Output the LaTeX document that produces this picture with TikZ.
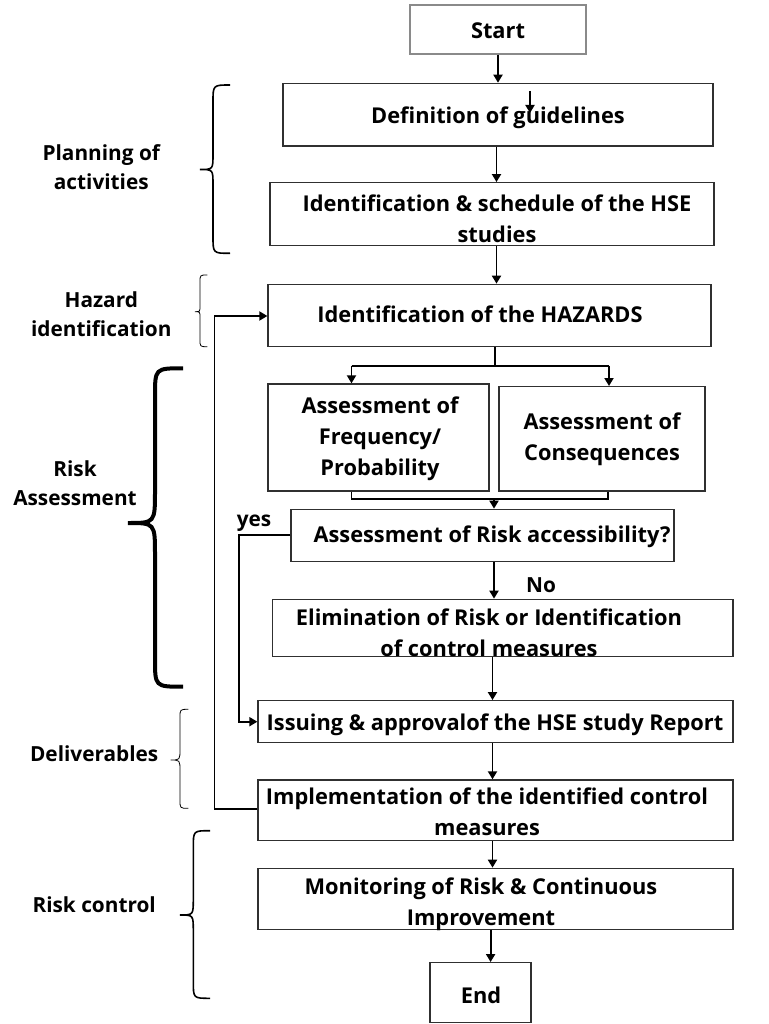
\documentclass[tikz,border=0pt]{standalone}
\usepackage{fontspec}
\setmainfont{Open Sans}[Ligatures=NoCommon]
\usetikzlibrary{arrows.meta}
\definecolor{boxc}{HTML}{303030}
\definecolor{startc}{HTML}{8A8A8A}
\newcommand\hsebrace[7]{%
 \draw[#1] ({#2},{#5}) .. controls ({#3},{#5}) .. ({#3},{#5+(#2-#3)*1.0})
   -- ({#3},{#6-(#3-#4)*1.2}) .. controls ({#3},{#6}) .. ({#4},{#6})
   .. controls ({#3},{#6}) .. ({#3},{#6+(#3-#4)*1.2})
   -- ({#3},{#7-(#2-#3)*1.0}) .. controls ({#3},{#7}) .. ({#2},{#7});}
\begin{document}
\begin{tikzpicture}[x=1pt,y=-1pt,
  box/.style={draw=boxc, line width=1.3pt, inner sep=0pt},
  txt/.style={font=\fontsize{21.8}{31}\selectfont\bfseries, align=center, inner sep=0pt, text=black},
  lbl/.style={font=\fontsize{20.8}{29}\selectfont\bfseries, align=center, inner sep=0pt, text=black},
  conn/.style={line width=1.9pt, draw=black},
  arr/.style={conn, -{Triangle[length=8pt,width=9pt]}},
  ]
\useasboundingbox (0,0) rectangle (768,1024);
\fill[white] (0,0) rectangle (768,1024);

% boxes
\node[box, draw=startc, minimum width=176pt, minimum height=49pt] (start) at (498,29.5) {};
\node[box, minimum width=430pt, minimum height=62.7pt] (def) at (498,114.7) {};
\node[box, minimum width=444pt, minimum height=62.6pt] (is) at (492,214) {};
\node[box, minimum width=443pt, minimum height=62.4pt] (haz) at (489.5,315.5) {};
\node[box, minimum width=221pt, minimum height=107pt] (freq) at (378.5,437.5) {};
\node[box, minimum width=206pt, minimum height=104.3pt] (cons) at (602,438.8) {};
\node[box, minimum width=383pt, minimum height=52pt] (risk) at (482.5,535.3) {};
\node[box, minimum width=460.3pt, minimum height=57.4pt] (elim) at (502.9,628) {};
\node[box, minimum width=475pt, minimum height=42pt] (iss) at (495.5,721.7) {};
\node[box, minimum width=475pt, minimum height=60.7pt] (impl) at (495.5,810.3) {};
\node[box, minimum width=475pt, minimum height=61pt] (mon) at (495.5,898.8) {};
\node[box, minimum width=101pt, minimum height=60pt] (end) at (480.5,992.7) {};

% box texts
\node[txt] (start-t) at (498,31) {Start};
\node[txt] (def-t) at (498,117.5) {Definition of guidelines};
\node[txt] (is-t) at (497,219) {Identification \& schedule of the HSE\\studies};
\node[txt] (haz-t) at (480,314.5) {Identification of the HAZARDS};
\node[txt] (freq-t) at (380,439) {Assessment of\\Frequency/\\Probability};
\node[txt] (cons-t) at (602,439) {Assessment of\\Consequences};
\node[txt] (risk-t) at (492,537) {Assessment of Risk accessibility?};
\node[txt] (elim-t) at (489,633) {Elimination of Risk or Identification\\of control measures};
\node[txt] (iss-t) at (495,724.5) {Issuing \& approvalof the HSE study Report};
\node[txt] (impl-t) at (487,812) {Implementation of the identified control\\measures};
\node[txt] (mon-t) at (481,904) {Monitoring of Risk \& Continuous\\Improvement};
\node[txt] (end-t) at (481,995) {End};
\node[lbl] (yes) at (254,523) {yes};
\node[lbl] (no) at (541,585.5) {No};

% side labels
\node[lbl] (plan-l) at (101.3,167.5) {Planning of\\activities};
\node[lbl] (hazid-l) at (101.3,314) {Hazard\\identification};
\node[lbl] (ra-l) at (75,483) {Risk\\Assessment};
\node[lbl] (del-l) at (94.2,754) {Deliverables};
\node[lbl] (rc-l) at (94.2,904.5) {Risk control};

% braces
\hsebrace{line width=1.6pt}{230}{213}{200}{85}{169.5}{253.3}
\hsebrace{line width=0.8pt}{207.3}{200}{195}{275}{311.7}{346.7}
\hsebrace{line width=4pt}{183}{155}{128}{368.3}{523}{686.7}
\hsebrace{line width=0.8pt}{188.3}{180}{170.7}{709.3}{760}{808.3}
\hsebrace{line width=1.6pt}{210}{193.3}{180}{830.7}{915}{998.3}

% column coordinates
\coordinate (c1) at (496.5,0);
\coordinate (c2) at (494,0);
\coordinate (c3) at (492.5,0);
\coordinate (c4) at (490.6,0);
\coordinate (br) at (495,365.7);
\coordinate (bl) at (351.5,365.7);
\coordinate (brr) at (609,365.7);
\coordinate (ml) at (351.5,499);
\coordinate (mr) at (608,499);
\coordinate (mm) at (494,499);
\coordinate (stA) at (530,91);
\coordinate (stB) at (530,113);
\coordinate (yA) at (238.6,535);
\coordinate (yB) at (238.6,721.7);
\coordinate (fA) at (214.5,809);
\coordinate (fB) at (214.5,316);

% connectors
\draw[arr] (start.south) -- (def.north);
\draw[arr] (stA) -- (stB);
\draw[arr] (c1 |- def.south) -- (c1 |- is.north);
\draw[arr] (c1 |- is.south) -- (c1 |- haz.north);
\draw[conn] (br |- haz.south) -- (br);
\draw[conn] (bl) -- (brr);
\draw[arr] (bl) -- (bl |- freq.north);
\draw[arr] (brr) -- (brr |- cons.north);
\draw[conn] (ml |- freq.south) -- (ml) -- (mr) -- (mr |- cons.south);
\draw[arr] (mm) -- (mm |- risk.north);
\draw[arr] (c2 |- risk.south) -- (c2 |- elim.north);
\draw[arr] (c3 |- elim.south) -- (c3 |- iss.north);
\draw[arr] (c3 |- iss.south) -- (c3 |- impl.north);
\draw[arr] (c3 |- impl.south) -- (c3 |- mon.north);
\draw[arr] (c4 |- mon.south) -- (c4 |- end.north);
\draw[arr] (risk.west |- yA) -- (yA) -- (yB) -- (iss.west |- yB);
\draw[arr] (impl.west |- fA) -- (fA) -- (fB) -- (haz.west |- fB);
\end{tikzpicture}
\end{document}
